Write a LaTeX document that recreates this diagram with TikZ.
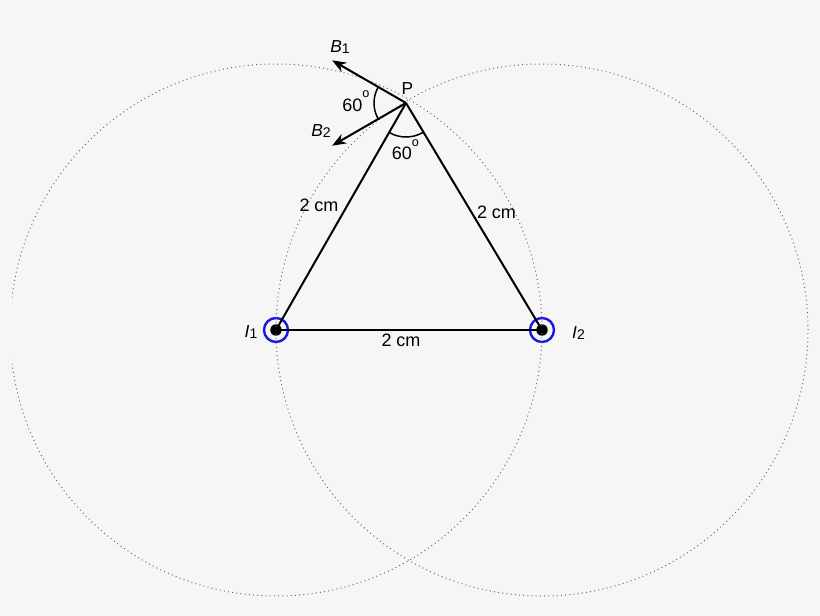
\documentclass[tikz,border=0pt]{standalone}
\usepackage{fontspec}
\setmainfont{Liberation Sans}
\usetikzlibrary{positioning, arrows.meta, calc}
\definecolor{bggray}{RGB}{246,246,246}
\definecolor{ringblue}{RGB}{25,25,225}

\begin{document}
\begin{tikzpicture}[x=0.75pt,y=-0.75pt]
		\tikzstyle{side} = [line width=1.5pt, black]
		\tikzstyle{field} = [line width=1.5pt, -{Stealth[length=10.5pt,width=8pt]}]
		\tikzstyle{angarc} = [line width=1.1pt, black]
		\tikzstyle{orbit} = [line width=0.75pt, gray!85!black, dash pattern=on 0.75pt off 2.4pt]
		\tikzstyle{wire} = [circle, draw=ringblue, line width=1.8pt, minimum size=18pt, inner sep=0]
		\tikzstyle{core} = [circle, fill=black, minimum size=8.6pt, inner sep=0]
		\tikzstyle{lbl} = [font=\fontsize{13.5}{16}\selectfont, inner sep=0]
		\tikzstyle{tag} = [font=\fontsize{13}{15}\selectfont, inner sep=0]
		
		\fill [bggray] (0,0) rectangle (820,616);
		
		\node [wire] (v1) at (276,330) {};
		\node [wire] (v2) at (542,330) {};
		\node [core] at (v1.center) {};
		\node [core] at (v2.center) {};
		\coordinate (v3) at (406,103);
		
		\begin{scope}
		\clip (12,0) rectangle (820,616);
		\draw [orbit] (v1.center) circle [radius=199.5pt];
		\draw [orbit] (v2.center) circle [radius=199.5pt];
		\end{scope}
		
		\draw [side] (v1.center) -- (v2.center);
		\draw [side] (v1.center) -- (v3);
		\draw [side] (v2.center) -- (v3);
		
		\coordinate (v5) at ($(v3)+(150:64pt)$);
		\coordinate (v6) at ($(v3)+(210:64pt)$);
		\draw [field] (v3) -- (v5);
		\draw [field] (v3) -- (v6);
		
		\draw [angarc] ($(v3)+(150:24pt)$) arc [start angle=150, end angle=210, radius=24pt];
		\draw [angarc] ($(v3)+(240:25.5pt)$) arc [start angle=240, end angle=300, radius=25.5pt];
		
		\node [tag] (v4) at (407.5,89) {P};
		\node [tag] (v7) at (340,47) {\textit{B}\raisebox{-0.15ex}{\fontsize{10.5}{11}\selectfont 1}};
		\node [tag] (v8) at (321,131) {\textit{B}\raisebox{-0.15ex}{\fontsize{10.5}{11}\selectfont 2}};
		\node [tag] (v9) at (251,332) {\textit{I}\raisebox{-0.15ex}{\fontsize{10.5}{11}\selectfont 1}};
		\node [tag] (v10) at (578.5,333) {\textit{I}\raisebox{-0.15ex}{\fontsize{10.5}{11}\selectfont 2}};
		
		\node [lbl, anchor=base] (v11) at (356,111.5) {60\raisebox{0.75em}{\fontsize{9.5}{10}\selectfont o}};
		\node [lbl, anchor=base] (v12) at (405.5,160) {60\raisebox{0.75em}{\fontsize{9.5}{10}\selectfont o}};
		\node [lbl] (v13) at (319,205) {2 cm};
		\node [lbl] (v14) at (496.5,212.5) {2 cm};
		\node [lbl] (v15) at (401,340) {2 cm};
\end{tikzpicture}
\end{document}
